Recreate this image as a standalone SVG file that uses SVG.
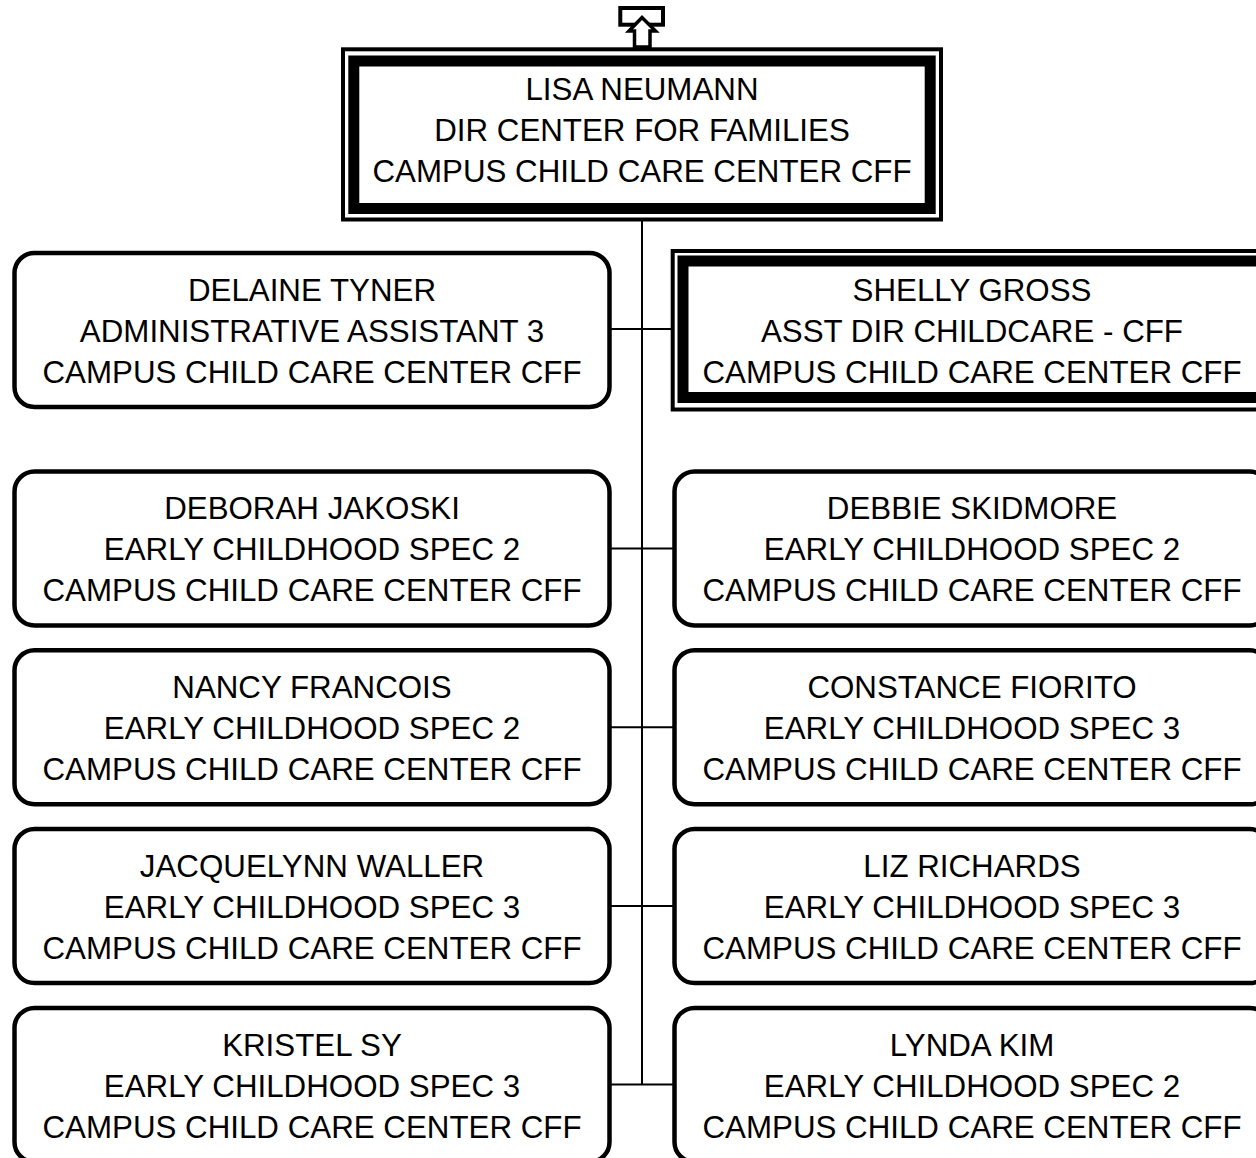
<svg xmlns="http://www.w3.org/2000/svg" width="1256" height="1158" viewBox="0 0 1256 1158">
<style>
.t{font-family:"Liberation Sans",Arial,sans-serif;font-size:31.3px;fill:#000;text-anchor:middle}
.box{fill:#fff;stroke:#000;stroke-width:4.5}
.thin{fill:#fff;stroke:#000;stroke-width:4}
.thick{fill:none;stroke:#000;stroke-width:11}
.conn{stroke:#000;stroke-width:2;fill:none}
</style>
<rect width="1256" height="1158" fill="#fff"/>
<g id="connectors">
<line class="conn" x1="642" y1="221" x2="642" y2="1085"/>
<line class="conn" x1="611" y1="329" x2="673" y2="329"/>
<line class="conn" x1="611" y1="548.5" x2="673" y2="548.5"/>
<line class="conn" x1="611" y1="727.3" x2="673" y2="727.3"/>
<line class="conn" x1="611" y1="906.1" x2="673" y2="906.1"/>
<line class="conn" x1="611" y1="1084.5" x2="673" y2="1084.5"/>
</g>
<g id="up-arrow">
<rect x="620.3" y="8" width="42.7" height="16.7" fill="#fff" stroke="#000" stroke-width="4"/>
<path d="M642,17.5 L655.5,31 L650,31 L650,47 L634.5,47 L634.5,31 L629,31 Z" fill="#fff" stroke="#000" stroke-width="3.5" stroke-linejoin="miter"/>
</g>
<g id="lisa-neumann">
<rect class="thin" x="343" y="49.3" width="598" height="170.2"/>
<rect class="thick" x="353.8" y="61" width="576.4" height="147.5"/>
<text class="t" x="642" y="100">LISA NEUMANN</text>
<text class="t" x="642" y="140.7">DIR CENTER FOR FAMILIES</text>
<text class="t" x="642" y="181.7">CAMPUS CHILD CARE CENTER CFF</text>
</g>
<g id="delaine-tyner">
<rect class="box" x="14.5" y="253" width="595" height="154" rx="20"/>
<text class="t" x="312" y="300.7">DELAINE TYNER</text>
<text class="t" x="312" y="341.7">ADMINISTRATIVE ASSISTANT 3</text>
<text class="t" x="312" y="382.7">CAMPUS CHILD CARE CENTER CFF</text>
</g>
<g id="shelly-gross">
<rect class="thin" x="672.7" y="251" width="600" height="158.5"/>
<rect class="thick" x="683" y="261" width="580" height="136.5"/>
<text class="t" x="972" y="300.7">SHELLY GROSS</text>
<text class="t" x="972" y="341.7">ASST DIR CHILDCARE - CFF</text>
<text class="t" x="972" y="382.7">CAMPUS CHILD CARE CENTER CFF</text>
</g>
<g id="deborah-jakoski">
<rect class="box" x="14.5" y="471.5" width="595" height="154" rx="20"/>
<text class="t" x="312" y="519.2">DEBORAH JAKOSKI</text>
<text class="t" x="312" y="560.2">EARLY CHILDHOOD SPEC 2</text>
<text class="t" x="312" y="601.2">CAMPUS CHILD CARE CENTER CFF</text>
</g>
<g id="debbie-skidmore">
<rect class="box" x="674.5" y="471.5" width="595" height="154" rx="20"/>
<text class="t" x="972" y="519.2">DEBBIE SKIDMORE</text>
<text class="t" x="972" y="560.2">EARLY CHILDHOOD SPEC 2</text>
<text class="t" x="972" y="601.2">CAMPUS CHILD CARE CENTER CFF</text>
</g>
<g id="nancy-francois">
<rect class="box" x="14.5" y="650.3" width="595" height="154" rx="20"/>
<text class="t" x="312" y="698">NANCY FRANCOIS</text>
<text class="t" x="312" y="739">EARLY CHILDHOOD SPEC 2</text>
<text class="t" x="312" y="780">CAMPUS CHILD CARE CENTER CFF</text>
</g>
<g id="constance-fiorito">
<rect class="box" x="674.5" y="650.3" width="595" height="154" rx="20"/>
<text class="t" x="972" y="698">CONSTANCE FIORITO</text>
<text class="t" x="972" y="739">EARLY CHILDHOOD SPEC 3</text>
<text class="t" x="972" y="780">CAMPUS CHILD CARE CENTER CFF</text>
</g>
<g id="jacquelynn-waller">
<rect class="box" x="14.5" y="829.1" width="595" height="154" rx="20"/>
<text class="t" x="312" y="876.8">JACQUELYNN WALLER</text>
<text class="t" x="312" y="917.8">EARLY CHILDHOOD SPEC 3</text>
<text class="t" x="312" y="958.8">CAMPUS CHILD CARE CENTER CFF</text>
</g>
<g id="liz-richards">
<rect class="box" x="674.5" y="829.1" width="595" height="154" rx="20"/>
<text class="t" x="972" y="876.8">LIZ RICHARDS</text>
<text class="t" x="972" y="917.8">EARLY CHILDHOOD SPEC 3</text>
<text class="t" x="972" y="958.8">CAMPUS CHILD CARE CENTER CFF</text>
</g>
<g id="kristel-sy">
<rect class="box" x="14.5" y="1007.9" width="595" height="154" rx="20"/>
<text class="t" x="312" y="1055.6">KRISTEL SY</text>
<text class="t" x="312" y="1096.6">EARLY CHILDHOOD SPEC 3</text>
<text class="t" x="312" y="1137.6">CAMPUS CHILD CARE CENTER CFF</text>
</g>
<g id="lynda-kim">
<rect class="box" x="674.5" y="1007.9" width="595" height="154" rx="20"/>
<text class="t" x="972" y="1055.6">LYNDA KIM</text>
<text class="t" x="972" y="1096.6">EARLY CHILDHOOD SPEC 2</text>
<text class="t" x="972" y="1137.6">CAMPUS CHILD CARE CENTER CFF</text>
</g>
</svg>
